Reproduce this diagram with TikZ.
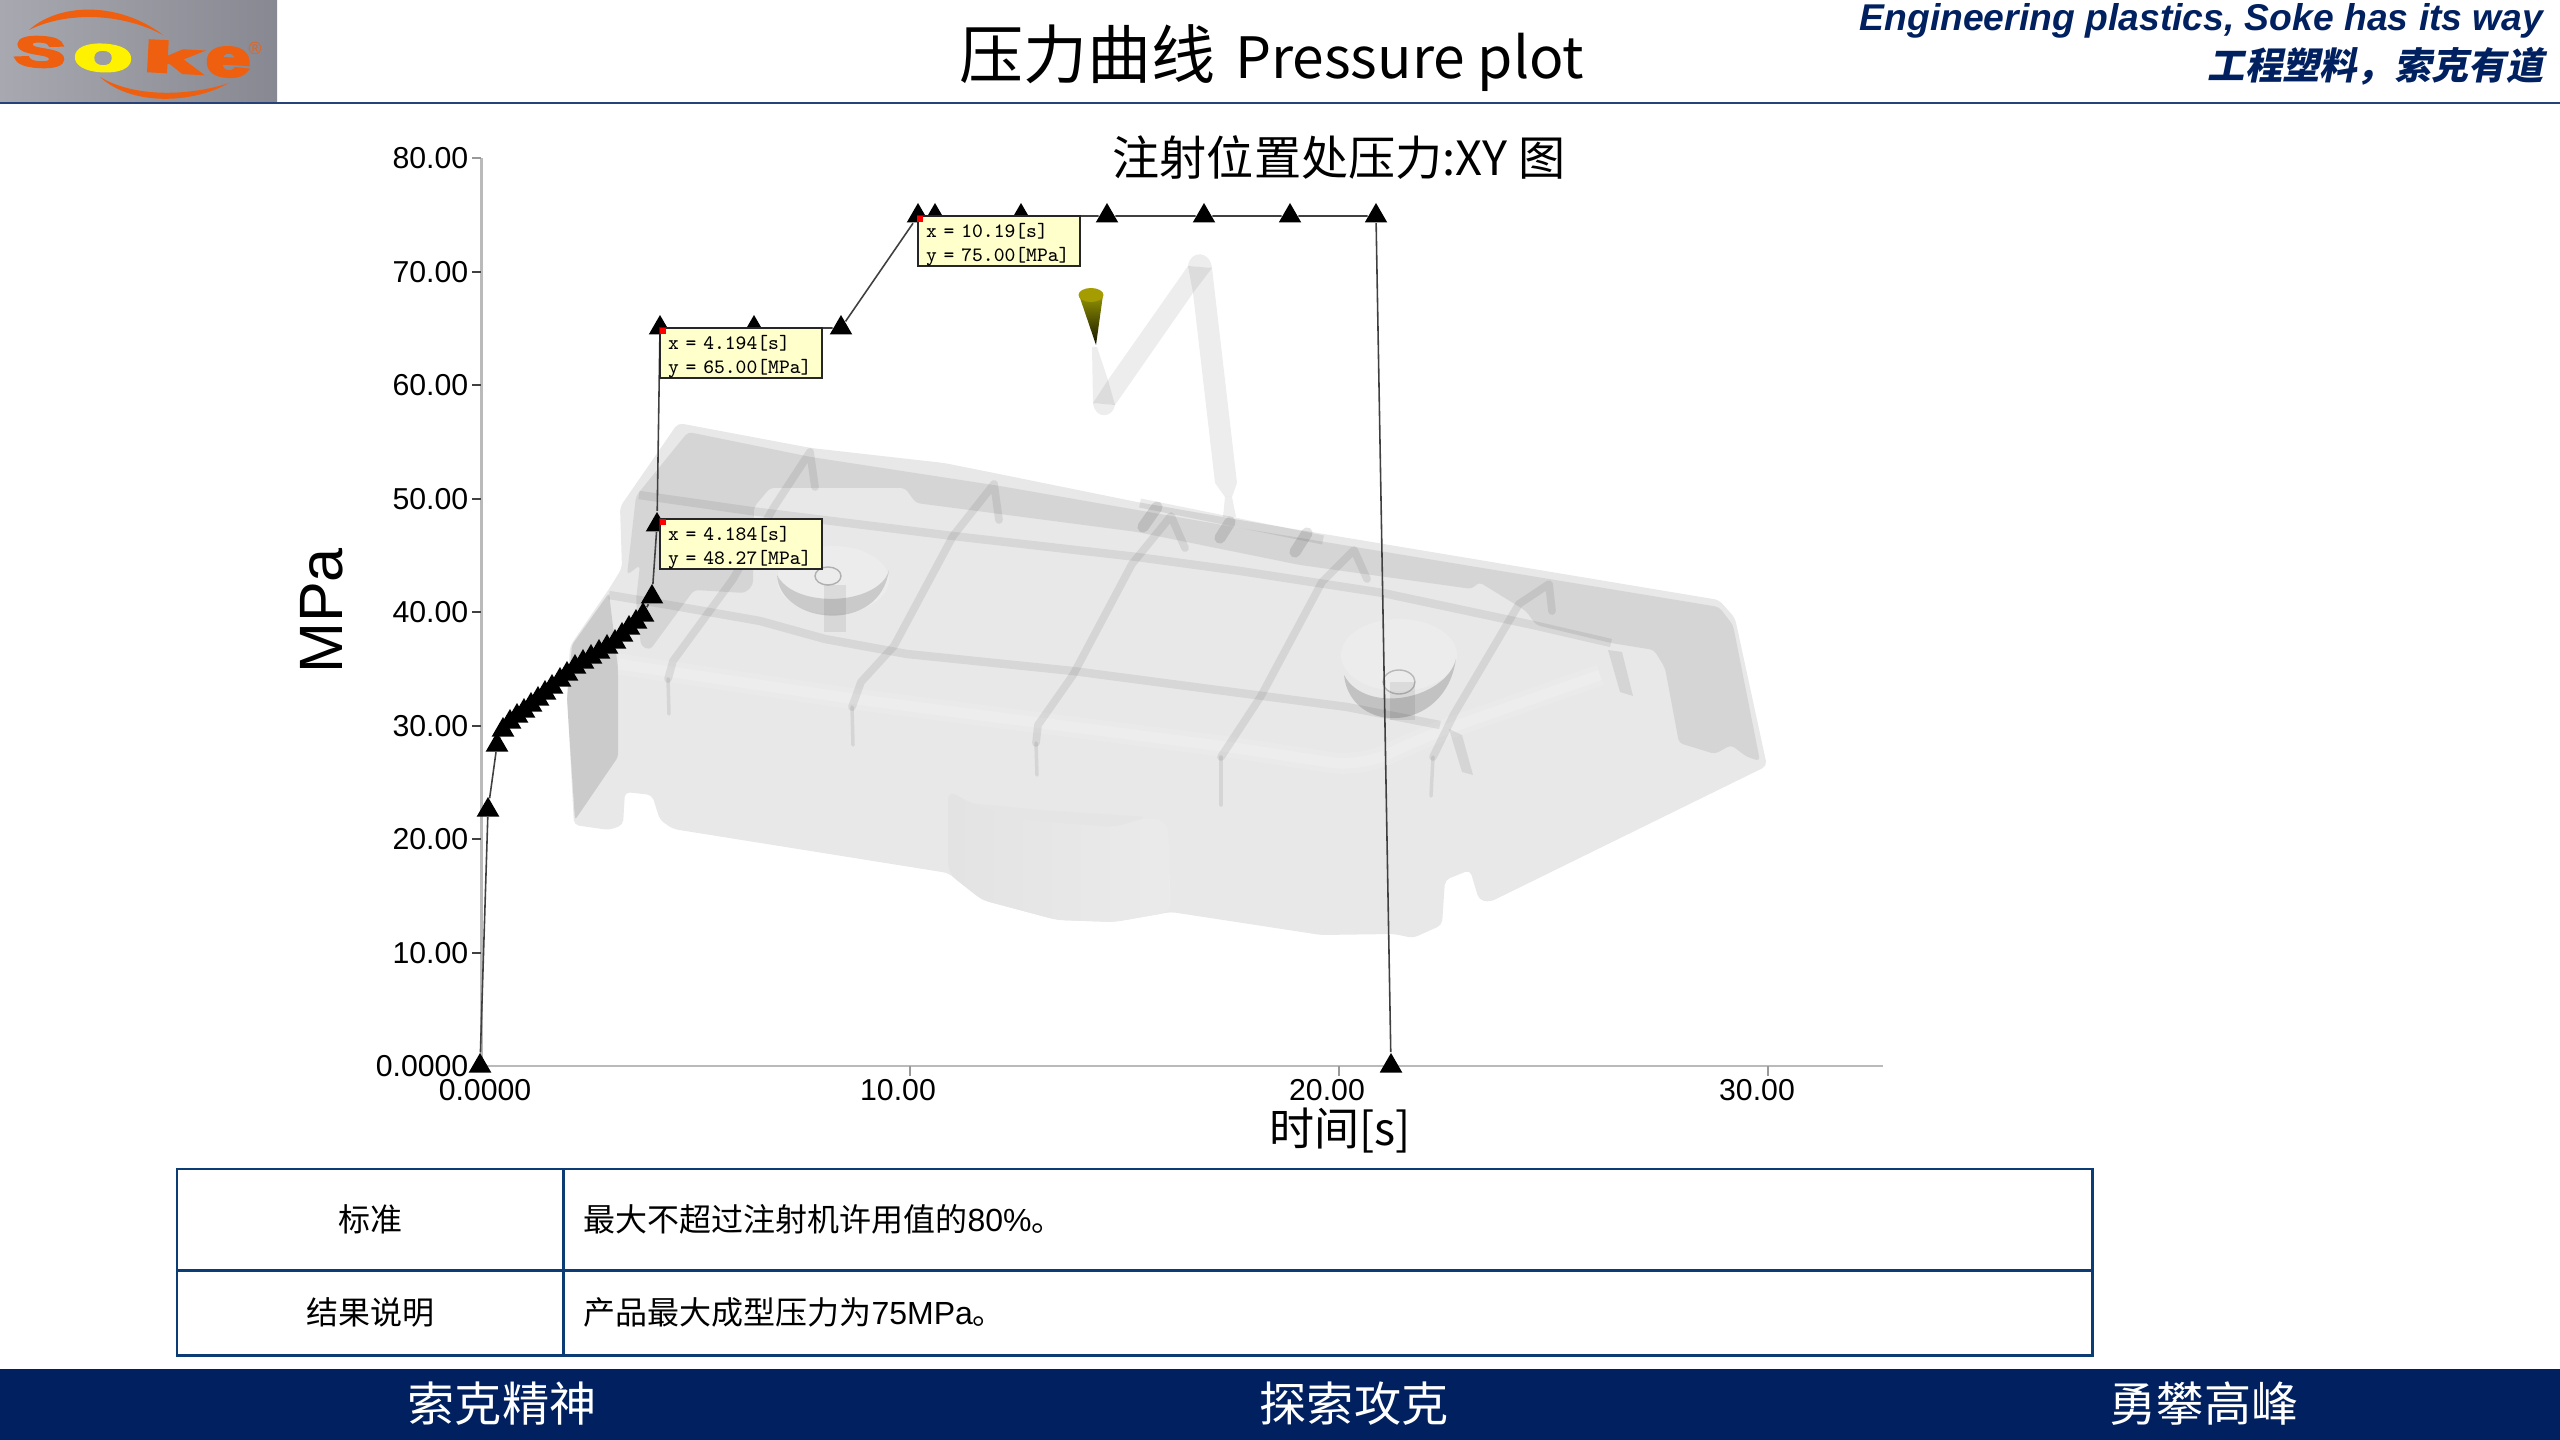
\documentclass[tikz,border=0pt]{standalone}
\usepackage{fontspec}
\setmainfont{Liberation Sans}
\newfontfamily\cjk{Noto Sans CJK SC}
\newfontfamily\cjkslant[FakeSlant=0.2]{Noto Sans CJK SC}
\newfontfamily\logofont[FakeBold=6]{Liberation Sans}
\usetikzlibrary{shapes.geometric}
\definecolor{sokeblue}{HTML}{002060}
\definecolor{tableblue}{HTML}{0B3C74}
\definecolor{logoorange}{HTML}{EE6010}
\definecolor{logoleft}{HTML}{A8A8B0}
\definecolor{logomid}{HTML}{B6B6CE}
\definecolor{logoright}{HTML}{888892}
\definecolor{probefill}{HTML}{FFFFCC}
\tikzset{
    marker/.style={regular polygon,regular polygon sides=3,fill=black,inner sep=0pt,minimum size=0.26cm},
    curveline/.style={black!75,line width=0.45pt},
    ticklabel/.style={inner sep=0pt,font=\fontsize{8.6pt}{10pt}\selectfont},
    probebox/.style={draw=black!85,line width=0.6pt,fill=probefill,anchor=north west,inner xsep=0.08cm,inner ysep=0pt,outer sep=0pt,text width=1.46cm,align=left,font=\fontsize{5.8pt}{6.8pt}\selectfont\ttfamily,execute at begin node=\rule{0pt}{6.2pt}},
    redpoint/.style={fill=red,inner sep=0pt,minimum size=0.06cm},
    cellbox/.style={draw=tableblue,line width=0.85pt,anchor=north west,inner sep=0pt,outer sep=0pt,font=\fontsize{9.1pt}{11pt}\selectfont},
    banner/.style={text=white,inner sep=0pt,font=\fontsize{13.4pt}{16pt}\selectfont\cjk},
    logoletter/.style={text=logoorange,inner sep=0pt,rotate=-3},
    rib/.style={black,opacity=0.08,line width=2.2pt,line join=round,line cap=round},
    ribtail/.style={black,opacity=0.08,line width=1pt,line cap=round},
    groove/.style={black,opacity=0.07,line width=2.4pt,line join=round},
    wall/.style={fill=black,fill opacity=0.08},
    runner/.style={fill=black,fill opacity=0.07},
    gate/.style={black,opacity=0.11,line width=3.2pt,line cap=round}
}

\begin{document}
\begin{tikzpicture}[x=0.01cm,y=-0.01cm]
    \useasboundingbox (0,0) rectangle (2560,1440);

    \shade[left color=logoleft,middle color=logomid,right color=logoright] (0,0) rectangle (277,103);
    \fill[logoorange] (29,30) .. controls (60,2) and (120,2) .. (163,35) .. controls (120,12) and (65,12) .. (29,30);
    \fill[logoorange] (100,77) .. controls (130,105) and (190,105) .. (229,83) .. controls (190,96) and (135,98) .. (100,77);
    \node[logoletter,xscale=1.8,font=\fontsize{12pt}{14pt}\selectfont\logofont\bfseries] (logoS) at (40,52) {S};
    \node[logoletter,text=yellow,xscale=2,font=\fontsize{13.5pt}{14pt}\selectfont\logofont\bfseries] (logoO) at (103,58) {o};
    \node[logoletter,xscale=2.4,font=\fontsize{12pt}{14pt}\selectfont\logofont\bfseries] (logoK) at (172,57) {k};
    \node[logoletter,xscale=1.5,font=\fontsize{15pt}{14pt}\selectfont\logofont\bfseries] (logoE) at (228,62) {e};
    \node[text=logoorange,inner sep=0pt,font=\fontsize{5pt}{6pt}\selectfont] (logoR) at (255,48) {\textregistered};
    \draw[sokeblue!85,line width=0.7pt] (0,103) -- (2560,103);

    \node[inner sep=0pt,font=\fontsize{18.2pt}{22pt}\selectfont\cjk] (title) at (1272,58) {压力曲线\hspace{0.3em}{\fontsize{16.2pt}{22pt}\selectfont Pressure plot}};
    \node[anchor=east,inner sep=0pt,text=sokeblue,font=\fontsize{10.6pt}{12pt}\selectfont\bfseries\itshape] (slogan1) at (2544,21) {Engineering plastics, Soke has its way};
    \node[anchor=east,inner sep=0pt,text=sokeblue,font=\fontsize{10.6pt}{12pt}\selectfont\bfseries\cjkslant] (slogan2) at (2544,66) {工程塑料，索克有道};

    \fill[black!9,rounded corners=0.05cm] (678,423) -- (811,448) -- (944,463) -- (999,474) -- (1137,502) -- (1240,520) -- (1719,600) -- (1735,618) -- (1767,766) -- (1490,902) -- (1479,900) -- (1470,870) -- (1445,880) -- (1442,925) -- (1413,938) -- (1394,934) -- (1321,935) -- (1171,912) -- (1114,922) -- (1057,920) -- (982,900) -- (948,873) -- (673,829) -- (660,820) -- (652,795) -- (625,792) -- (623,825) -- (609,830) -- (574,825) -- (567,696) -- (570,646) -- (609,589) -- (622,568) -- (620,507) -- cycle;
    \draw[white,opacity=0.12,line width=6pt,line join=round,rounded corners=0.3cm] (618,664) -- (861,700) -- (1229,747) -- (1361,767) -- (1424,737) -- (1600,675);
    \draw[white,opacity=0.18,line width=3pt,line join=round,rounded corners=0.3cm] (618,664) -- (861,700) -- (1229,747) -- (1361,767) -- (1424,737) -- (1600,675);
    \shade[left color=black!11,right color=black!8,rounded corners=0.1cm] (948,790) -- (948,873) -- (982,900) -- (1057,920) -- (1114,922) -- (1171,912) -- (1168,822) -- (1148,817) -- (1114,827) -- (1028,820) -- (970,803) -- cycle;
    \fill[black!10,rounded corners=0.08cm] (970,803) -- (1040,810) -- (1148,817) -- (1114,827) -- (1028,820) -- cycle;

    \fill[wall,rounded corners=0.04cm] (688,432) -- (811,457) -- (1000,486) -- (1240,528) -- (1719,607) -- (1733,625) -- (1760,761) -- (1747,757) -- (1731,745) -- (1715,754) -- (1679,743) -- (1665,668) -- (1654,650) -- (1611,643) -- (1536,625) -- (1526,611) -- (1479,582) -- (1472,589) -- (1300,565) -- (1137,532) -- (916,503) -- (905,488) -- (770,488) -- (754,507) -- (753,585) -- (745,593) -- (694,590) -- (650,650) -- (641,646) -- (636,600) -- (640,565) -- (627,575) -- (636,496) -- cycle;
    \fill[wall,fill opacity=0.12,rounded corners=0.03cm] (567,700) -- (575,820) -- (618,757) -- (618,668) -- (609,593) -- (572,645) -- cycle;

    \draw[groove] (639,495) -- (751,511) -- (953,536) -- (1137,557) -- (1240,571) -- (1383,593) -- (1533,625) -- (1611,643);
    \draw[groove] (609,595) -- (669,605) -- (760,621) -- (825,639) -- (907,654) -- (1073,671) -- (1240,693) -- (1347,707) -- (1440,725);

    \draw[rib] (815,487) -- (810,452) -- (774,507) -- (733,579) -- (673,661) -- (668,679);
    \draw[ribtail] (668,679) -- (669,714);
    \draw[rib] (999,520) -- (994,484) -- (953,536) -- (894,646) -- (861,682) -- (852,707);
    \draw[ribtail] (852,707) -- (853,745);
    \draw[rib] (1185,548) -- (1171,516) -- (1132,564) -- (1073,675) -- (1038,725) -- (1036,743);
    \draw[ribtail] (1036,743) -- (1037,775);
    \draw[rib] (1367,579) -- (1354,550) -- (1322,582) -- (1261,696) -- (1221,757);
    \draw[ribtail] (1221,757) -- (1221,805);
    \draw[rib] (1552,611) -- (1549,584) -- (1519,604) -- (1454,714) -- (1433,757);
    \draw[ribtail] (1433,757) -- (1431,796);
    \fill[wall] (1449,729) -- (1462,735) -- (1473,775) -- (1462,772) -- cycle;
    \fill[wall] (1608,650) -- (1622,652) -- (1633,696) -- (1620,692) -- cycle;

    \fill[white,opacity=0.18] (833,580) ellipse[x radius=56,y radius=34];
    \fill[black,opacity=0.14] (777,575) .. controls (780,625) and (880,635) .. (889,570) .. controls (880,605) and (795,610) .. (777,575) -- cycle;
    \fill[black,opacity=0.07] (824,585) rectangle (846,632);
    \draw[black,opacity=0.25,line width=0.4pt] (828,576) ellipse[x radius=13,y radius=9];
    \fill[white,opacity=0.18] (1399,655) ellipse[x radius=58,y radius=36];
    \fill[black,opacity=0.16] (1344,675) .. controls (1350,735) and (1445,735) .. (1456,659) .. controls (1445,700) and (1365,715) .. (1344,675) -- cycle;
    \fill[black,opacity=0.07] (1390,682) rectangle (1415,720);
    \draw[black,opacity=0.22,line width=0.4pt] (1399,682) ellipse[x radius=16,y radius=12];

    \fill[runner] (1092,347) -- (1097,347) -- (1108,380) -- (1115,405) -- (1093,403) -- cycle;
    \fill[runner] (1108,380) -- (1188,266) -- (1212,268) -- (1193,293) -- (1115,405) -- (1093,403) -- cycle;
    \fill[runner] (1193,293) -- (1188,266) -- (1212,268) -- (1237,483) -- (1232,497) -- (1225,497) -- (1215,483) -- cycle;
    \fill[runner] (1093,403) .. controls (1095,420) and (1113,418) .. (1115,405) -- cycle;
    \fill[runner] (1188,266) .. controls (1190,250) and (1210,250) .. (1212,268) -- cycle;
    \fill[runner] (1225,497) -- (1232,497) -- (1236,517) -- (1223,517) -- cycle;
    \draw[black,opacity=0.08,line width=2.6pt] (1140,503) -- (1323,540);
    \draw[gate] (1157,507) -- (1143,527);
    \draw[gate] (1230,522) -- (1220,538);
    \draw[gate] (1307,533) -- (1295,552);
    \shade[top color=olive!85!yellow,bottom color=black!85!olive] (1079,295) -- (1103,295) -- (1096,345) -- cycle;
    \fill[olive!80!yellow] (1091,295) ellipse[x radius=12.5,y radius=7];

    \draw[black!27,line width=0.85pt] (481,158) -- (481,1066) -- (1883,1066);
    \draw[black!40,line width=0.5pt] (472,158) -- (481,158);
    \draw[black!75,line width=0.5pt] (472,272) -- (481,272);
    \draw[black!75,line width=0.5pt] (472,385) -- (481,385);
    \draw[black!75,line width=0.5pt] (472,499) -- (481,499);
    \draw[black!75,line width=0.5pt] (472,612) -- (481,612);
    \draw[black!75,line width=0.5pt] (472,726) -- (481,726);
    \draw[black!75,line width=0.5pt] (472,839) -- (481,839);
    \draw[black!75,line width=0.5pt] (472,953) -- (481,953);
    \draw[black!40,line width=0.4pt] (910,1066) -- (910,1076);
    \draw[black!40,line width=0.4pt] (1339,1066) -- (1339,1076);
    \draw[black!40,line width=0.4pt] (1768,1066) -- (1768,1076);

    \node[ticklabel,anchor=east] (y80) at (469,158) {80.00};
    \node[ticklabel,anchor=east] (y70) at (469,272) {70.00};
    \node[ticklabel,anchor=east] (y60) at (469,385) {60.00};
    \node[ticklabel,anchor=east] (y50) at (469,499) {50.00};
    \node[ticklabel,anchor=east] (y40) at (469,612) {40.00};
    \node[ticklabel,anchor=east] (y30) at (469,726) {30.00};
    \node[ticklabel,anchor=east] (y20) at (469,839) {20.00};
    \node[ticklabel,anchor=east] (y10) at (469,953) {10.00};
    \node[ticklabel,anchor=east] (y0) at (469,1066) {0.0000};
    \node[ticklabel] (x0) at (485,1090) {0.0000};
    \node[ticklabel] (x10) at (898,1090) {10.00};
    \node[ticklabel] (x20) at (1327,1090) {20.00};
    \node[ticklabel] (x30) at (1757,1090) {30.00};

    \node[inner sep=0pt,rotate=90,font=\fontsize{17.4pt}{20pt}\selectfont] (ylabel) at (322,611) {MPa};
    \node[inner sep=0pt,font=\fontsize{12.8pt}{15pt}\selectfont\cjk] (xlabel) at (1340,1131) {时间[s]};
    \node[inner sep=0pt,font=\fontsize{13.4pt}{15pt}\selectfont\cjk] (plottitle) at (1339,158) {注射位置处压力:XY 图};

    \node[marker] (p0) at (480,1066) {};
    \node[marker] (p1) at (488,810) {};
    \node[marker] (p2) at (497,745) {};
    \node[marker] (c1) at (503,730) {};
    \node[marker] (c2) at (510,722) {};
    \node[marker] (c3) at (517,716) {};
    \node[marker] (c4) at (524,711) {};
    \node[marker] (c5) at (531,705) {};
    \node[marker] (c6) at (538,699) {};
    \node[marker] (c7) at (545,693) {};
    \node[marker] (c8) at (552,687) {};
    \node[marker] (c9) at (560,680) {};
    \node[marker] (c10) at (567,674) {};
    \node[marker] (c11) at (575,667) {};
    \node[marker] (c12) at (583,662) {};
    \node[marker] (c13) at (591,657) {};
    \node[marker] (c14) at (599,652) {};
    \node[marker] (c15) at (607,647) {};
    \node[marker] (c16) at (615,642) {};
    \node[marker] (c17) at (622,635) {};
    \node[marker] (c18) at (629,628) {};
    \node[marker] (c19) at (636,622) {};
    \node[marker] (c20) at (643,615) {};
    \node[marker] (p3) at (652,597) {};
    \node[marker] (p4) at (657,525) {};
    \node[marker] (p5) at (660,328) {};
    \node[marker] (p6) at (754,328) {};
    \node[marker] (p7) at (841,328) {};
    \node[marker] (p8) at (918,216) {};
    \node[marker] (p9) at (935,216) {};
    \node[marker] (p10) at (1021,216) {};
    \node[marker] (p11) at (1107,216) {};
    \node[marker] (p12) at (1204,216) {};
    \node[marker] (p13) at (1290,216) {};
    \node[marker] (p14) at (1376,216) {};
    \node[marker] (p15) at (1391,1066) {};

    \draw[curveline] (p0) -- (p1) -- (p2) -- (c1);
    \draw[curveline] (c20) -- (p3) -- (p4) -- (p5) -- (p6) -- (p7) -- (p8) -- (p9) -- (p10) -- (p11) -- (p12) -- (p13) -- (p14) -- (p15);

    \node[probebox] (probe1) at (660,328) {x = 4.194[s]\\y = 65.00[MPa]};
    \node[probebox] (probe2) at (660,519) {x = 4.184[s]\\y = 48.27[MPa]};
    \node[probebox] (probe3) at (918,216) {x = 10.19[s]\\y = 75.00[MPa]};
    \node[redpoint] (red1) at (663,331) {};
    \node[redpoint] (red2) at (663,522) {};
    \node[redpoint] (red3) at (920,219) {};

    \node[cellbox,minimum width=3.86cm,minimum height=1.01cm] (std) at (177,1169) {\cjk 标准};
    \node[cellbox,minimum width=15.29cm,minimum height=1.01cm,text width=14.88cm] (stdtext) at (563,1169) {\cjk 最大不超过注射机许用值的{\rmfamily 80\%}。};
    \node[cellbox,minimum width=3.86cm,minimum height=0.85cm] (res) at (177,1270) {\cjk 结果说明};
    \node[cellbox,minimum width=15.29cm,minimum height=0.85cm,text width=14.88cm] (restext) at (563,1270) {\cjk 产品最大成型压力为{\rmfamily 75MPa}。};

    \fill[sokeblue] (0,1369) rectangle (2560,1440);
    \node[banner] (band1) at (502,1404) {索克精神};
    \node[banner] (band2) at (1354,1404) {探索攻克};
    \node[banner] (band3) at (2204,1404) {勇攀高峰};
\end{tikzpicture}
\end{document}
